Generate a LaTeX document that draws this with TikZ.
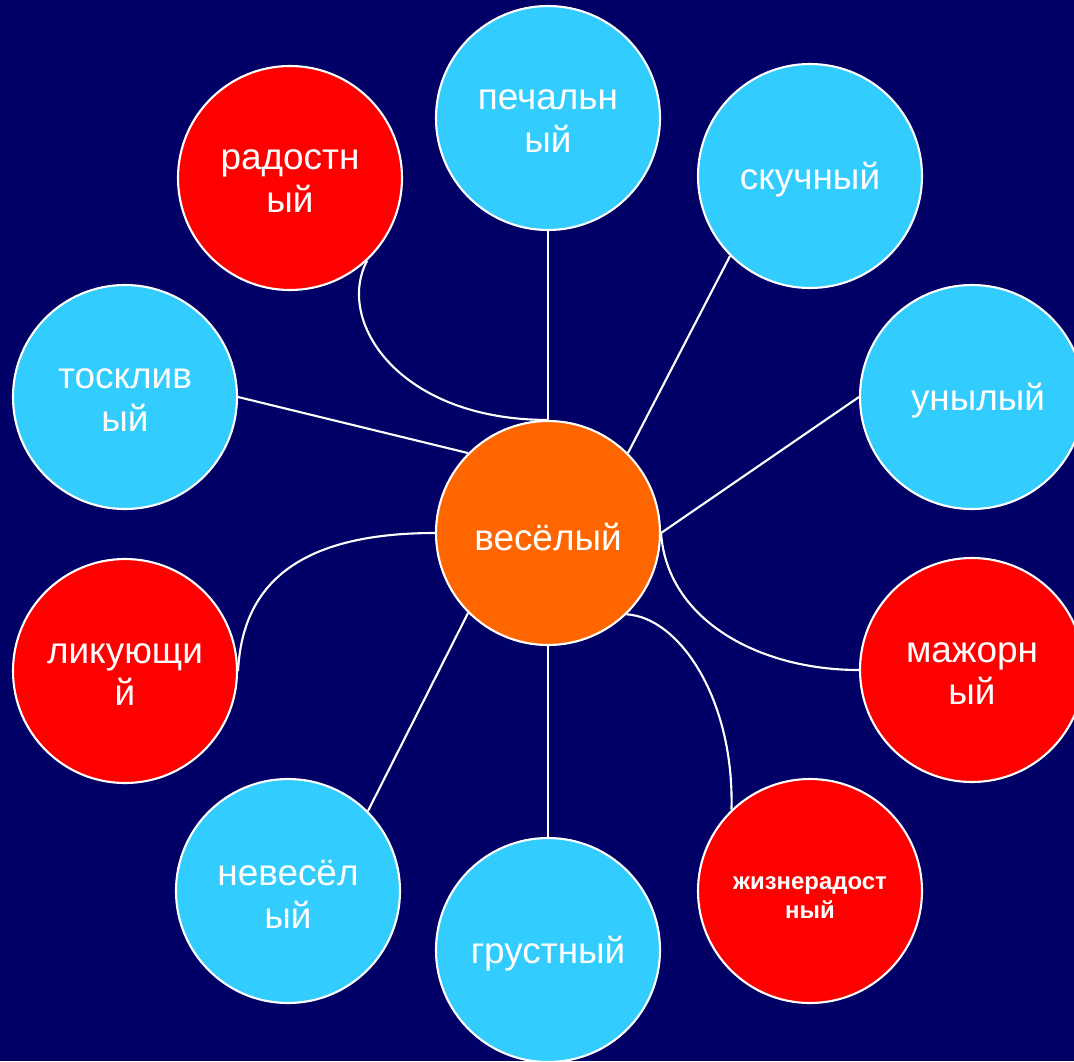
\documentclass[tikz,border=0pt]{standalone}
\usepackage{fontspec}
\setmainfont{Liberation Sans}
\usetikzlibrary{positioning, calc}

\begin{document}
\begin{tikzpicture}[
  word/.style={circle, draw=white, line width=0.6pt, minimum size=2.24cm,
               inner sep=0pt},
  say/.style={text=white, align=center, inner sep=0pt, yshift=-0.035cm,
              font=\fontsize{10.5}{12.2}\selectfont},
  sad/.style={word, fill=cSky},
  glad/.style={word, fill=cRed},
  link/.style={white, line width=0.6pt},
]
\definecolor{cNavy}{HTML}{000066}   % background
\definecolor{cSky} {HTML}{33CCFF}   % sad words
\definecolor{cRed} {HTML}{FF0000}   % joyful words
\definecolor{cOrange}{HTML}{FF6600} % centre word

% =====================================================================
% Page / background
% =====================================================================
\useasboundingbox (0,0) rectangle (10.74,10.61);
\fill[cNavy] (0,0) rectangle (10.74,10.61);

% =====================================================================
% Word circles (text set as centred labels)
% =====================================================================
\node[word, fill=cOrange, label={[say]center:весёлый}] (ves) at (5.48,5.28) {};

\node[sad,  label={[say]center:печальн\\ый}]  (pech)  at (5.48,9.43) {};
\node[glad, label={[say]center:радостн\\ый}]  (rad)   at (2.90,8.83) {};
\node[sad,  label={[say]center:скучный}]      (skuch) at (8.10,8.85) {};
\node[sad,  label={[say]center:тосклив\\ый}]  (tosk)  at (1.25,6.64) {};
\node[sad,  label={[say, xshift=0.06cm]center:унылый}] (uny) at (9.72,6.64) {};
\node[glad, label={[say]center:ликующи\\й}]   (lik)   at (1.25,3.90) {};
\node[glad, label={[say]center:мажорн\\ый}]   (mazh)  at (9.72,3.91) {};
\node[sad,  label={[say]center:невесёл\\ый}]  (nev)   at (2.88,1.70) {};
\node[sad,  label={[say]center:грустный}]     (grust) at (5.48,1.11) {};
\node[glad, label={[say, yshift=-0.03cm,
                    font=\bfseries\fontsize{6.8}{8.2}\selectfont]center:жизнерадост\\ный}]
            (zhiz)  at (8.10,1.70) {};

% =====================================================================
% Straight links
% =====================================================================
\draw[link] (pech.south)  -- (ves.north);
\draw[link] (skuch.-135)  -- (ves.45);
\draw[link] (uny.west)    -- (ves.east);
\draw[link] (tosk.east)   -- (ves.135);
\draw[link] (nev.45)      -- (ves.-135);
\draw[link] (grust.north) -- (ves.south);

% =====================================================================
% Curved links (joyful words)
% =====================================================================
\draw[link] (rad.-47)  .. controls +(-0.32,-0.60) and +(-1.50,0) .. (ves.north);
\draw[link] (lik.east) .. controls +(0.04,0.80)   and +(-1.45,0) .. (ves.west);
\draw[link] (ves.east) .. controls +(0.06,-0.87)  and +(-1.00,0) .. (mazh.west);
\draw[link] (ves.-46)  .. controls +(0.53,-0.03)  and +(0.03,1.10) .. (zhiz.134);

\end{tikzpicture}
\end{document}
